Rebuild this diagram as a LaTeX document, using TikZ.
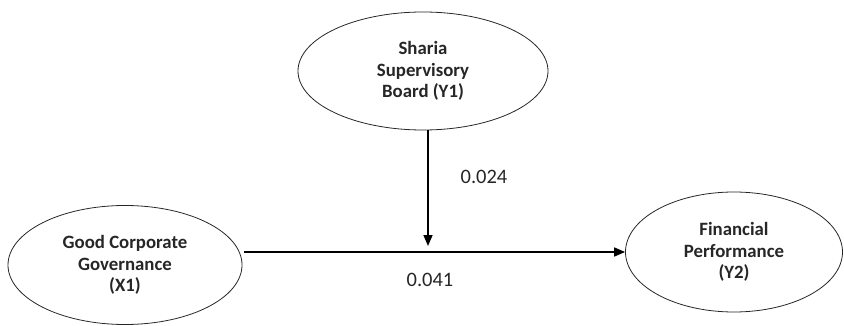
\documentclass[tikz,border=0pt]{standalone}
\usepackage{fontspec}
\setmainfont{Carlito}
\usetikzlibrary{shapes.geometric,arrows.meta}
\tikzset{
  latent/.style={ellipse, draw=black!85, line width=0.8pt, inner sep=0pt, align=center,
    font=\fontsize{18.8}{21.8}\selectfont\bfseries, text=black!85},
  arr/.style={line width=1.6pt, -{Triangle[length=11pt,width=9pt]}},
  coef/.style={font=\fontsize{20.5}{22}\selectfont, text=black!85}
}
\begin{document}
\begin{tikzpicture}[x=1pt,y=-1pt]
\useasboundingbox (0,0) rectangle (844,326);
\node[latent, minimum width=250pt, minimum height=118pt] (ssb) at (423,71) {Sharia\\Supervisory\\Board (Y1)};
\node[latent, minimum width=234pt, minimum height=119pt] (gcg) at (125,265) {Good Corporate\\Governance\\(X1)};
\node[latent, minimum width=217pt, minimum height=120pt] (fp) at (734,252) {Financial\\Performance\\(Y2)};
\coordinate (hs) at (244,252);
\coordinate (mid) at (428,246);
\draw[arr] (hs) -- (fp);
\draw[arr] (mid |- ssb.south) -- (mid);
\node[coef] (c1) at (484,177) {0.024};
\node[coef] (c2) at (430,280) {0.041};
\end{tikzpicture}
\end{document}
